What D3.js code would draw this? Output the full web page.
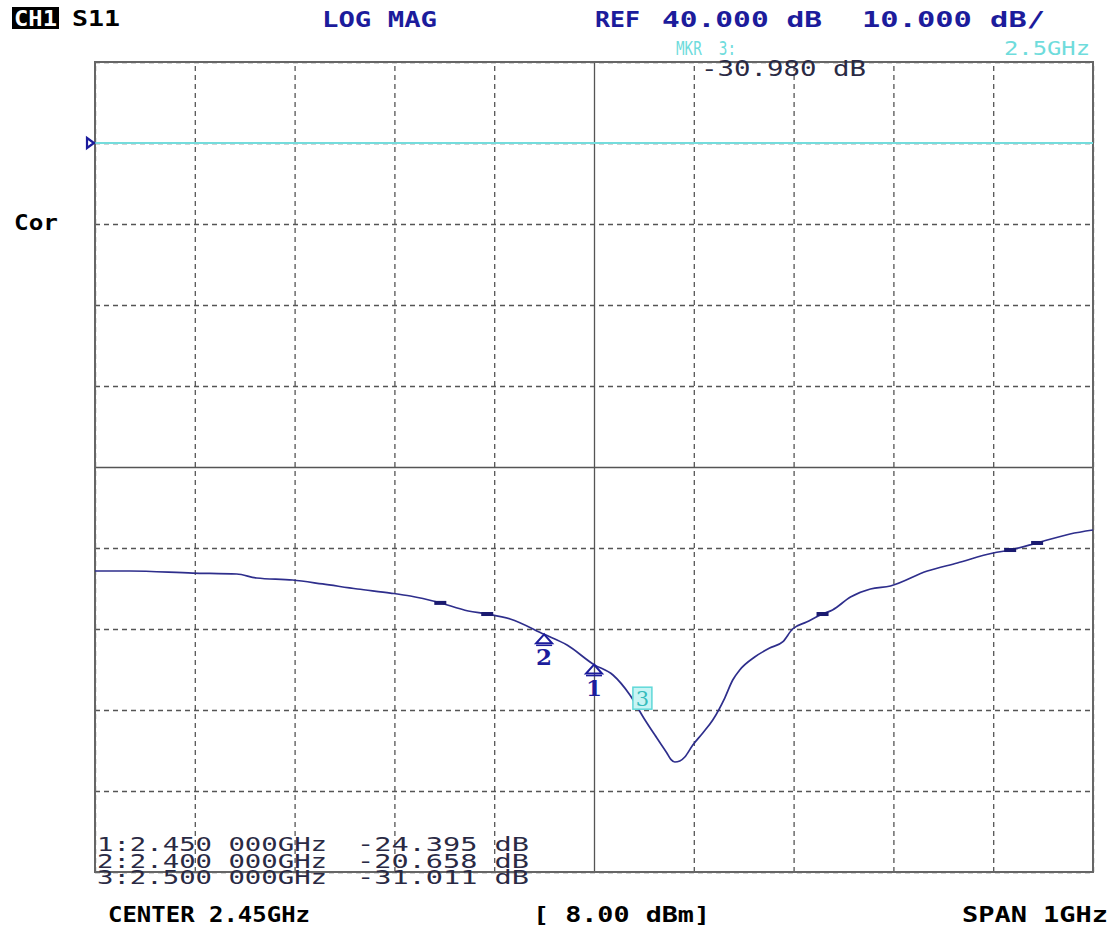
<!DOCTYPE html>
<html>
<head>
<meta charset="utf-8">
<script src="https://cdn.jsdelivr.net/npm/d3@7"></script>
<style>
  body { margin: 0; background: #fff; }
  text { white-space: pre; }
</style>
</head>
<body>
<svg id="chart" width="1118" height="928"></svg>
<script>
// trace (GHz, dB)
const freqGHz = [1.950, 1.985, 2.048, 2.092, 2.112, 2.148, 2.178, 2.213, 2.246, 2.266,
  2.293, 2.324, 2.343, 2.366, 2.400, 2.423, 2.450, 2.469, 2.486, 2.500,
  2.513, 2.523, 2.527, 2.531, 2.536, 2.541, 2.549, 2.559, 2.569, 2.581, 2.589, 2.596,
  2.611, 2.626, 2.639, 2.649, 2.663, 2.679, 2.689, 2.707, 2.727, 2.747,
  2.784, 2.814, 2.850, 2.867, 2.894, 2.927, 2.950];
const s11dB = [-12.84, -12.84, -13.09, -13.21, -13.70, -13.95, -14.44, -15.06, -15.56, -15.93,
  -16.67, -17.78, -18.15, -18.77, -20.66, -21.98, -24.40, -25.68, -28.15, -31.01,
  -33.46, -35.30, -36.10, -36.42, -36.30, -35.80, -34.32, -32.84, -31.23, -28.52, -26.30, -25.06,
  -23.46, -22.35, -21.60, -20.00, -19.14, -18.15, -17.65, -16.05, -15.06, -14.69,
  -12.84, -11.85, -10.62, -10.25, -9.38, -8.27, -7.78];

// markers
const markerIds = ["1", "2", "3"];
const markerFreq = [2.450, 2.400, 2.500];
const markerDb = [-24.395, -20.658, -31.011];
const activeMarker = "3";
const activeReadout = -30.980;

// darker blips on the trace
const blipFreq = [2.296, 2.343, 2.679, 2.867, 2.894];

// scale settings
const centerGHz = 2.45, spanGHz = 1;
const refDb = 40, perDiv = 10;
const xGridGHz = d3.range(0, 11).map(i => 1.95 + i * 0.1);
const yGridDb = d3.range(-50, 51, 10);
const sourcePower = 8.00;

var svg = d3.select("#chart");
var pLeft = 95, pRight = 1093, pTop = 62, pBottom = 872;

var x = d3.scaleLinear().domain([centerGHz - spanGHz / 2, centerGHz + spanGHz / 2]).range([pLeft, pRight]);
var y = d3.scaleLinear().domain([-50, 50]).range([pBottom, pTop]);

var plot = svg.append("g");

// grid (axes with full-length ticks)
plot.append("g")
  .attr("transform", "translate(0," + pBottom + ")")
  .call(d3.axisBottom(x).tickValues(xGridGHz).tickSize(-(pBottom - pTop)).tickFormat(""))
  .call(g => g.select(".domain").remove())
  .selectAll("line")
  .attr("stroke", "#555")
  .attr("stroke-width", 1.3)
  .attr("stroke-dasharray", d => Math.abs(d - centerGHz) < 1e-6 ? null : "5,4");

plot.append("g")
  .attr("transform", "translate(" + pLeft + ",0)")
  .call(d3.axisLeft(y).tickValues(yGridDb).tickSize(-(pRight - pLeft)).tickFormat(""))
  .call(g => g.select(".domain").remove())
  .selectAll("line")
  .attr("stroke", "#555")
  .attr("stroke-width", 1.3)
  .attr("stroke-dasharray", d => d === 0 ? null : "5,4");

plot.append("rect")
  .attr("x", pLeft).attr("y", pTop)
  .attr("width", pRight - pLeft).attr("height", pBottom - pTop)
  .attr("fill", "none")
  .attr("stroke", "#666")
  .attr("stroke-width", 2);

// reference line
plot.append("line")
  .attr("x1", pLeft).attr("x2", pRight)
  .attr("y1", y(refDb)).attr("y2", y(refDb))
  .attr("stroke", "#74dcdc")
  .attr("stroke-width", 2);

plot.append("path")
  .attr("d", "M" + (pLeft - 8) + "," + (y(refDb) - 5) + "L" + (pLeft - 1) + "," + y(refDb) + "L" + (pLeft - 8) + "," + (y(refDb) + 5) + "Z")
  .attr("fill", "#fff")
  .attr("stroke", "#1c1c9c")
  .attr("stroke-width", 2.2);

// trace
var pts = freqGHz.map((f, i) => [f, s11dB[i]]);
var line = d3.line().x(d => x(d[0])).y(d => y(d[1])).curve(d3.curveMonotoneX);

plot.append("path")
  .datum(pts)
  .attr("d", line)
  .attr("fill", "none")
  .attr("stroke", "#2e2e8c")
  .attr("stroke-width", 1.7);

function valueAt(f) {
  var i = d3.bisector(d => d[0]).left(pts, f);
  if (i <= 0) return pts[0][1];
  var a = pts[i - 1], b = pts[i];
  return a[1] + (b[1] - a[1]) * (f - a[0]) / (b[0] - a[0]);
}

plot.selectAll(".blip")
  .data(blipFreq)
  .enter().append("rect")
  .attr("class", "blip")
  .attr("x", d => x(d) - 6)
  .attr("y", d => y(valueAt(d)) - 2)
  .attr("width", 12).attr("height", 4)
  .attr("fill", "#1a1a70");

// markers
var markers = markerIds.map((id, i) => ({id: id, f: markerFreq[i], db: markerDb[i]}));

var mk = plot.selectAll(".mk")
  .data(markers.filter(d => d.id !== activeMarker))
  .enter().append("g")
  .attr("class", "mk")
  .attr("transform", d => "translate(" + x(d.f) + "," + y(d.db) + ")");

mk.append("path")
  .attr("d", "M0,0L-8,9L8,9Z")
  .attr("fill", "none")
  .attr("stroke", "#1c1c9c")
  .attr("stroke-width", 2);
mk.append("line")
  .attr("x1", -8).attr("x2", 8).attr("y1", 11).attr("y2", 11)
  .attr("stroke", "#1c1c9c").attr("stroke-width", 1.5);
mk.append("text")
  .attr("x", 0).attr("y", 31)
  .attr("text-anchor", "middle")
  .attr("font-family", "DejaVu Serif")
  .attr("font-size", 23)
  .attr("font-weight", "bold")
  .attr("fill", "#1c1c9c")
  .text(d => d.id);

var act = plot.selectAll(".act")
  .data(markers.filter(d => d.id === activeMarker))
  .enter().append("g")
  .attr("class", "act")
  .attr("transform", d => "translate(" + x(d.f) + "," + y(d.db) + ")");

act.append("rect")
  .attr("x", -11).attr("y", -31)
  .attr("width", 19).attr("height", 22)
  .attr("fill", "#c8f4f4")
  .attr("stroke", "#5fd8d8")
  .attr("stroke-width", 1.5);
act.append("text")
  .attr("x", -1.5).attr("y", -12)
  .attr("text-anchor", "middle")
  .attr("font-family", "DejaVu Serif")
  .attr("font-size", 21)
  .attr("fill", "#36bcbc")
  .text(d => d.id);

// header / footer texts
function label(txt, px, py, size, color, bold, width, anchor) {
  var t = svg.append("text")
    .attr("x", px).attr("y", py)
    .attr("font-family", "DejaVu Sans Mono")
    .attr("font-size", size)
    .attr("font-weight", bold ? "bold" : "normal")
    .attr("fill", color)
    .attr("text-anchor", anchor || "start")
    .text(txt);
  if (width) t.attr("textLength", width).attr("lengthAdjust", "spacingAndGlyphs");
  return t;
}

var blue = "#1c1c9c";
svg.append("rect").attr("x", 12).attr("y", 7).attr("width", 47).attr("height", 22).attr("fill", "#000");
label("CH1", 14, 26, 22, "#fff", true, 43);
label("S11", 72, 26, 22, "#000", true, 48);
label("LOG MAG", 322, 27, 22, blue, true, 115);
label("REF", 595, 27, 22, blue, true, 45);
label(d3.format(".3f")(refDb) + " dB", 662, 27, 22, blue, true, 160);
label(d3.format(".3f")(perDiv) + " dB/", 862, 27, 22, blue, true, 183);
label("MKR  " + activeMarker + ":", 676, 55, 19, "#6fdcdc", false, 60);
label(d3.format(".1f")(markerFreq[markerIds.indexOf(activeMarker)]) + "GHz", 1090, 55, 19, "#6fdcdc", false, 86, "end");
label(d3.format(".3f")(activeReadout).replace("−", "-") + " dB", 701, 76, 21, "#2a2a44", false, 165);
label("Cor", 14, 230, 22, "#000", true, 44);

svg.selectAll(".mrow")
  .data(markers)
  .enter().append("g")
  .attr("class", "mrow")
  .each(function(d, i) {
    var g = d3.select(this);
    var yy = 851 + i * 16.5;
    g.append("text")
      .attr("x", 97).attr("y", yy)
      .attr("font-family", "DejaVu Sans Mono").attr("font-size", 19)
      .attr("fill", "#2a2a44")
      .attr("textLength", 230).attr("lengthAdjust", "spacingAndGlyphs")
      .text(d.id + ":" + d3.format(".3f")(d.f) + " 000GHz");
    g.append("text")
      .attr("x", 357).attr("y", yy)
      .attr("font-family", "DejaVu Sans Mono").attr("font-size", 19)
      .attr("fill", "#2a2a44")
      .attr("textLength", 172).attr("lengthAdjust", "spacingAndGlyphs")
      .text(d3.format(".3f")(d.db).replace("−", "-") + " dB");
  });

label("CENTER " + centerGHz + "GHz", 108, 922, 22, "#000", true, 202);
label("[ " + d3.format(".2f")(sourcePower) + " dBm]", 533, 922, 22, "#000", true, 177);
label("SPAN " + spanGHz + "GHz", 1108, 922, 22, "#000", true, 146, "end");
</script>
</body>
</html>
